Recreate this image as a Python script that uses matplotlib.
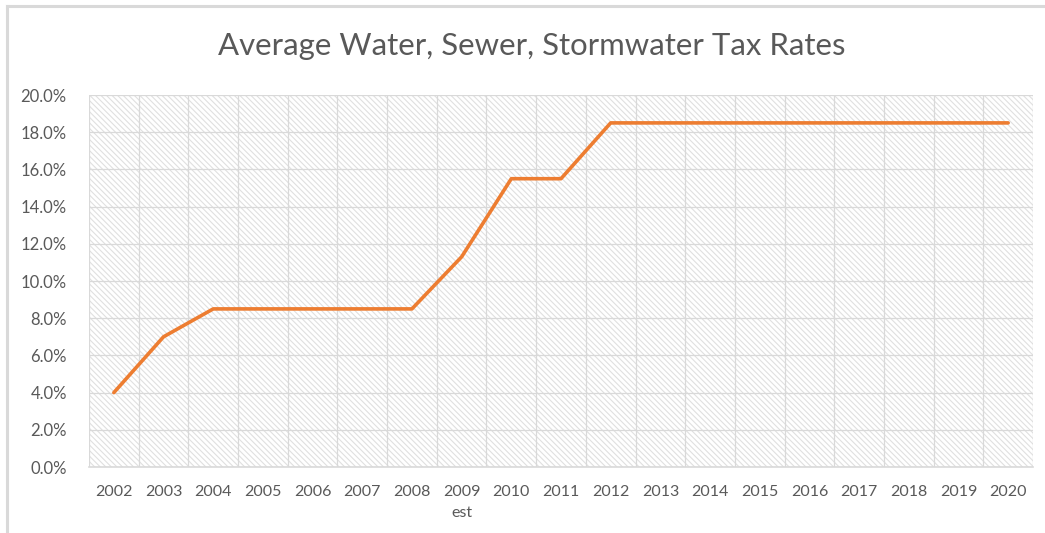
import numpy as np
import matplotlib
matplotlib.use("Agg")
import matplotlib.pyplot as plt
from matplotlib.lines import Line2D
from matplotlib.ticker import PercentFormatter, MultipleLocator

# Data
years = ["2002", "2003", "2004", "2005", "2006", "2007", "2008", "2009\nest", "2010",
         "2011", "2012", "2013", "2014", "2015", "2016", "2017", "2018", "2019", "2020"]
rates = [4.0, 7.0, 8.5, 8.5, 8.5, 8.5, 8.5, 11.3, 15.5,
         15.5, 18.5, 18.5, 18.5, 18.5, 18.5, 18.5, 18.5, 18.5, 18.5]

TEXT = "#595959"
GRID = "#d9d9d9"
ORANGE = "#ED7D31"

plt.rcParams["font.family"] = ["Lato", "DejaVu Sans"]
plt.rcParams["hatch.color"] = "#e0e0e0"
plt.rcParams["hatch.linewidth"] = 0.8

fig = plt.figure(figsize=(10.45, 5.33), dpi=100)
ax = fig.add_axes([89 / 1045, 1 - 467 / 533, (1033 - 89) / 1045, (467 - 95) / 533])

x = np.arange(len(years))

# hatched plot area background
ax.fill_between([-0.5, len(years) - 0.5], 0, 20, facecolor="white",
                hatch="\\" * 6, edgecolor="#e0e0e0", linewidth=0, zorder=0)

ax.plot(x, rates, color=ORANGE, linewidth=2.6, solid_capstyle="round", zorder=3)

ax.set_xlim(-0.5, len(years) - 0.5)
ax.set_ylim(0, 20)
ax.yaxis.set_major_locator(MultipleLocator(2))
ax.yaxis.set_major_formatter(PercentFormatter(decimals=1))
ax.set_xticks(x)
ax.set_xticklabels(years, linespacing=1.6)

# gridlines between categories and at each y tick
for b in np.arange(-0.5, len(years), 1.0):
    ax.axvline(b, color=GRID, linewidth=0.9, zorder=1)
ax.yaxis.grid(True, color=GRID, linewidth=0.9, zorder=1)
ax.set_axisbelow(True)

for s in ["top", "right", "left"]:
    ax.spines[s].set_visible(False)
ax.spines["bottom"].set_color(GRID)
ax.spines["bottom"].set_linewidth(1.2)

ax.tick_params(axis="x", length=0, colors=TEXT, labelsize=11.5, pad=13)
ax.tick_params(axis="y", length=0, colors=TEXT, labelsize=12, pad=16)

fig.text(532 / 1045, 1 - 46 / 533, "Average Water, Sewer, Stormwater Tax Rates",
         ha="center", va="center", fontsize=22.4, color=TEXT)

# outer frame from the screenshot (top and left edges)
fig.add_artist(Line2D([7 / 1045, 1], [1 - 6 / 533, 1 - 6 / 533], color="#d9d9d9", linewidth=2.2))
fig.add_artist(Line2D([7 / 1045, 7 / 1045], [0, 1 - 6 / 533], color="#d9d9d9", linewidth=2.2))

fig.savefig("out.png", dpi=100)
